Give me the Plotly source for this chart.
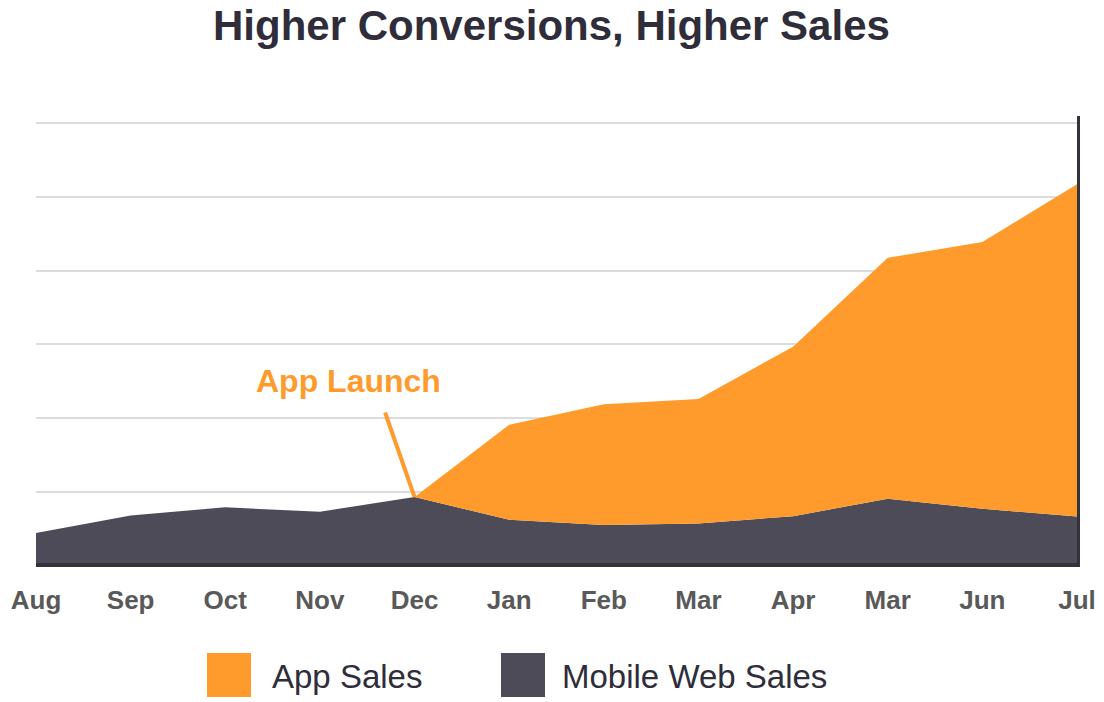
import plotly.graph_objects as go

# ---- data ----
months = ["Aug", "Sep", "Oct", "Nov", "Dec", "Jan", "Feb", "Mar", "Apr", "Mar", "Jun", "Jul"]
mobile_web_sales = [0.44, 0.68, 0.79, 0.73, 0.93, 0.62, 0.55, 0.57, 0.67, 0.905, 0.77, 0.665]
app_sales = [0, 0, 0, 0, 0, 1.29, 1.64, 1.69, 2.30, 3.27, 3.62, 4.51]
series_names = ["App Sales", "Mobile Web Sales"]
launch_label = "App Launch"
launch_index = 4
title_text = "Higher Conversions, Higher Sales"

# ---- styles ----
ORANGE = "#fe9b2c"
DARK = "#4c4b57"
AXIS = "#34323d"
TITLE = "#2f2d3a"
FONT = "Liberation Sans, Arial, Helvetica, sans-serif"

# The HTML page body has an 8px margin, so the figure is sized to fit the window.
OFF = 8
FIG_W, FIG_H = 1104 - OFF, 702 - OFF
plot_l, plot_r, plot_t, plot_b = 36 - OFF, 1077 - OFF, 116 - OFF, 563 - OFF
plot_w, plot_h = plot_r - plot_l, plot_b - plot_t


def px_x(page_x):
    return (page_x - OFF - plot_l) / plot_w


def px_y(page_y):
    return (plot_b - (page_y - OFF)) / plot_h


x_idx = list(range(len(months)))

fig = go.Figure()
fig.add_trace(go.Scatter(
    x=x_idx, y=mobile_web_sales, name=series_names[1], stackgroup="one",
    mode="lines", line=dict(width=0, color=DARK), fillcolor=DARK, hoverinfo="skip",
))
fig.add_trace(go.Scatter(
    x=x_idx, y=app_sales, name=series_names[0], stackgroup="one",
    mode="lines", line=dict(width=0, color=ORANGE), fillcolor=ORANGE, hoverinfo="skip",
))

fig.update_layout(
    width=FIG_W, height=FIG_H,
    margin=dict(l=plot_l, r=FIG_W - plot_r, t=plot_t, b=FIG_H - plot_b, autoexpand=False),
    paper_bgcolor="white", plot_bgcolor="white",
    showlegend=False,
    font=dict(family=FONT),
    xaxis=dict(range=[0, len(months) - 1], tickvals=x_idx, ticktext=months,
               showgrid=False, zeroline=False, showline=True, linewidth=4, linecolor=AXIS,
               ticks="outside", ticklen=11, tickcolor="rgba(0,0,0,0)",
               tickfont=dict(size=26, color="#595959", family=FONT, weight="bold"),
               ticklabeloverflow="allow",
               automargin=False, fixedrange=True),
    yaxis=dict(range=[0.034, 6.10], dtick=1, tick0=0, side="right",
               showgrid=True, gridcolor="#dcdcdc", gridwidth=2,
               zeroline=False, showline=True, linewidth=3, linecolor=AXIS,
               showticklabels=False, ticks="", automargin=False, fixedrange=True),
)

# Title
fig.add_annotation(xref="paper", yref="paper", x=px_x(551), y=px_y(25),
                   text=title_text, showarrow=False,
                   xanchor="center", yanchor="middle",
                   font=dict(size=42, color=TITLE, family=FONT, weight="bold"))

# App launch label and pointer line
fig.add_annotation(x=3.30, y=2.50, xref="x", yref="y", text=launch_label,
                   showarrow=False, font=dict(size=32, color=ORANGE, family=FONT, weight="bold"),
                   xanchor="center", yanchor="middle")
fig.add_annotation(x=x_idx[launch_index], y=mobile_web_sales[launch_index], xref="x", yref="y",
                   text="", showarrow=True, arrowhead=0, arrowwidth=4, arrowcolor=ORANGE,
                   ax=-30, ay=-86, standoff=0, startstandoff=0)

# Custom legend (large square swatches)
legend_items = [(series_names[0], ORANGE, 207, 270), (series_names[1], DARK, 501, 560)]
for name, color, sq_x, tx_x in legend_items:
    fig.add_shape(type="rect", xref="paper", yref="paper",
                  x0=px_x(sq_x), x1=px_x(sq_x + 44),
                  y0=px_y(697), y1=px_y(653),
                  fillcolor=color, line=dict(width=0))
    fig.add_annotation(xref="paper", yref="paper", x=px_x(tx_x), y=px_y(676),
                       text=name, showarrow=False,
                       xanchor="left", yanchor="middle",
                       font=dict(size=33, color=TITLE, family=FONT))

fig.write_html("out.html")
